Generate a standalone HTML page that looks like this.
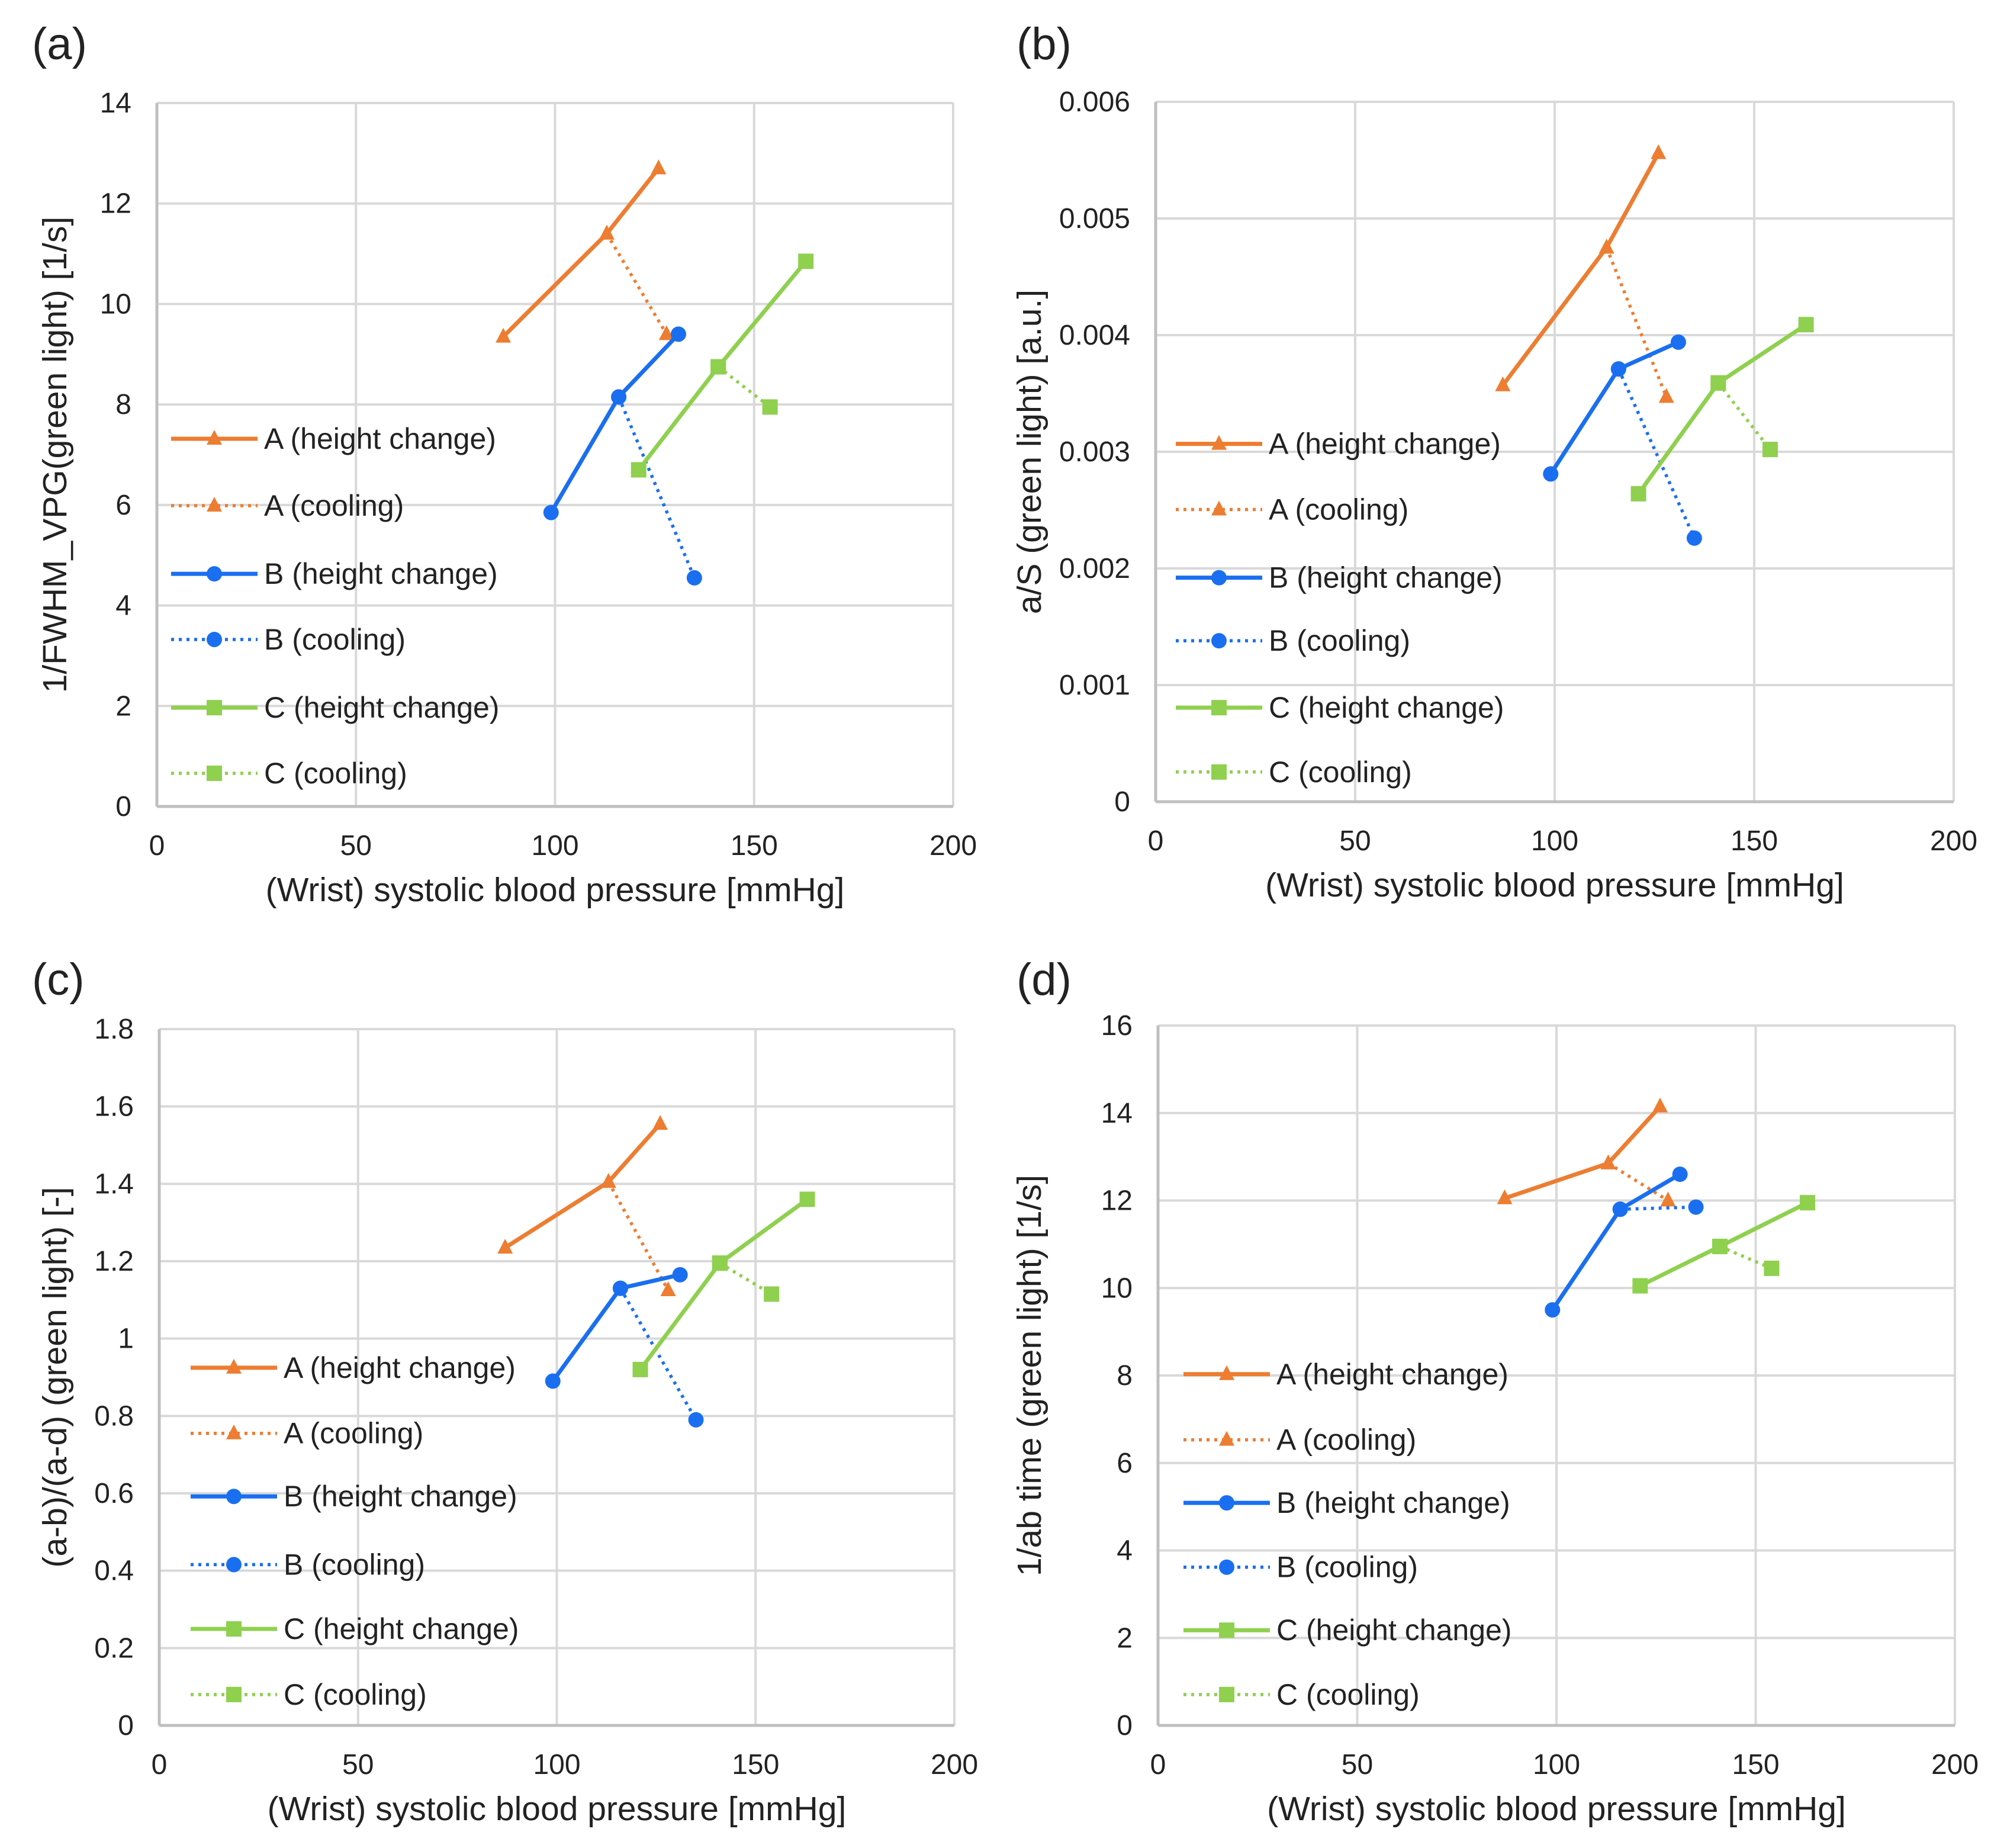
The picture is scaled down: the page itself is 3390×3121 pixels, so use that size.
<!DOCTYPE html>
<html><head><meta charset="utf-8"><style>
html,body{margin:0;padding:0;background:#fff}
svg{display:block}
text{font-family:"Liberation Sans",sans-serif;fill:#222}
</style></head><body>
<svg id="fig" width="3390" height="3121" viewBox="0 0 3390 3121" xmlns="http://www.w3.org/2000/svg"></svg>
<script>
// ---- data ----
const seriesNames = ["A (height change)","A (cooling)","B (height change)","B (cooling)","C (height change)","C (cooling)"];
const xTicks = [0,50,100,150,200];
// panel a
const aAh=[[87,9.35],[113,11.4],[126,12.7]];
const aAc=[[113,11.4],[128,9.4]];
const aBh=[[99,5.85],[116,8.15],[131,9.4]];
const aBc=[[116,8.15],[135,4.55]];
const aCh=[[121,6.7],[141,8.75],[163,10.85]];
const aCc=[[141,8.75],[154,7.95]];
const aYTicks=["0","2","4","6","8","10","12","14"];
// panel b
const bAh=[[87,0.00357],[113,0.00475],[126,0.00556]];
const bAc=[[113,0.00475],[128,0.00347]];
const bBh=[[99,0.00281],[116,0.00371],[131,0.00394]];
const bBc=[[116,0.00371],[135,0.00226]];
const bCh=[[121,0.00264],[141,0.00359],[163,0.00409]];
const bCc=[[141,0.00359],[154,0.00302]];
const bYTicks=["0","0.001","0.002","0.003","0.004","0.005","0.006"];
// panel c
const cAh=[[87,1.235],[113,1.405],[126,1.555]];
const cAc=[[113,1.405],[128,1.125]];
const cBh=[[99,0.89],[116,1.13],[131,1.165]];
const cBc=[[116,1.13],[135,0.79]];
const cCh=[[121,0.92],[141,1.195],[163,1.36]];
const cCc=[[141,1.195],[154,1.115]];
const cYTicks=["0","0.2","0.4","0.6","0.8","1","1.2","1.4","1.6","1.8"];
// panel d
const dAh=[[87,12.05],[113,12.85],[126,14.15]];
const dAc=[[113,12.85],[128,12.0]];
const dBh=[[99,9.5],[116,11.8],[131,12.6]];
const dBc=[[116,11.8],[135,11.85]];
const dCh=[[121,10.05],[141,10.95],[163,11.95]];
const dCc=[[141,10.95],[154,10.45]];
const dYTicks=["0","2","4","6","8","10","12","14","16"];

const NS="http://www.w3.org/2000/svg";
const svg=document.getElementById('fig');
function mk(tag,attrs,parent){const e=document.createElementNS(NS,tag);for(const k in attrs)e.setAttribute(k,attrs[k]);(parent||svg).appendChild(e);return e;}
const colors=["#ED7D31","#ED7D31","#1A6FF0","#1A6FF0","#8FD04F","#8FD04F"];
const markers=["tri","tri","circ","circ","sq","sq"];
const dashed=[false,true,false,true,false,true];

function marker(g,type,x,y,c){
  let m;
  if(type==="tri") m=mk('polygon',{points:`${x},${y-15} ${x-13},${y+10} ${x+13},${y+10}`,fill:c},g);
  else if(type==="circ") m=mk('circle',{cx:x,cy:y,r:13,fill:c},g);
  else m=mk('rect',{x:x-13,y:y-13,width:26,height:26,fill:c},g);
  
  
}

function panel(p){
  const g=mk('g',{});
  
  
  const X=v=>p.x0+(v-0)/(200)*(p.x1-p.x0);
  const yMax=p.ymax;
  const Y=v=>p.y0-(v/yMax)*(p.y0-p.y1);
  xTicks.forEach(t=>{
    const l=mk('line',{x1:X(t),x2:X(t),y1:p.y1,y2:p.y0,stroke:'#d9d9d9','stroke-width':4},g);
    
    const tx=mk('text',{x:X(t),y:p.y0+82,'font-size':48,'text-anchor':'middle'},g);tx.textContent=t;
    
  });
  const n=p.ticks.length-1;
  p.ticks.forEach((t,i)=>{
    const v=yMax*i/n;
    const l=mk('line',{x1:p.x0,x2:p.x1,y1:Y(v),y2:Y(v),stroke:'#d9d9d9','stroke-width':4},g);
    
    const tx=mk('text',{x:p.x0-43,y:Y(v)+16,'font-size':48,'text-anchor':'end'},g);tx.textContent=t;
    
  });
  const ax=mk('line',{x1:p.x0,x2:p.x1,y1:p.y0,y2:p.y0,stroke:'#bfbfbf','stroke-width':5},g);
  
  const ay=mk('line',{x1:p.x0,x2:p.x0,y1:p.y1,y2:p.y0,stroke:'#bfbfbf','stroke-width':5},g);
  
  const xt=mk('text',{x:(p.x0+p.x1)/2,y:p.y0+160,'font-size':57,'text-anchor':'middle'},g);
  xt.textContent="(Wrist) systolic blood pressure [mmHg]";
  
  const yc=(p.y0+p.y1)/2;
  const yt=mk('text',{x:p.ytx,y:yc,'font-size':57,'text-anchor':'middle',transform:`rotate(-90 ${p.ytx} ${yc})`},g);
  yt.textContent=p.ytitle;
  
  const pl=mk('text',{x:p.lx,y:p.ly,'font-size':76},g);pl.textContent=p.label;
  
  p.series.forEach((s,i)=>{
    const pts=s.map(d=>X(d[0])+','+Y(d[1])).join(' ');
    const pl=mk('polyline',{points:pts,fill:'none',stroke:colors[i],'stroke-width':dashed[i]?5.5:7,'stroke-dasharray':dashed[i]?'5 8':'none'},g);
    
    s.forEach(d=>marker(g,markers[i],X(d[0]),Y(d[1]),colors[i]));
  });
  p.leg.rows.forEach((ry,i)=>{
    const lg=mk('g',{},g);
    
    
    mk('line',{x1:p.leg.x,x2:p.leg.x+146,y1:ry,y2:ry,stroke:colors[i],'stroke-width':dashed[i]?5.5:7,'stroke-dasharray':dashed[i]?'5 8':'none'},lg);
    marker(lg,markers[i],p.leg.x+73,ry,colors[i]);
    const t=mk('text',{x:p.leg.x+157,y:ry+17,'font-size':50},lg);t.textContent=seriesNames[i];
  });
}
const S=2.173;
panel({id:'a',label:'(a)',lx:54,ly:100,x0:265,x1:1610,y0:1362,y1:174,ymax:14,ticks:aYTicks,ytx:112,
  ytitle:"1/FWHM_VPG(green light) [1/s]",series:[aAh,aAc,aBh,aBc,aCh,aCc],
  leg:{x:289,rows:[341,393,446,497,550,601].map(v=>v*S)}});
panel({id:'b',label:'(b)',lx:1717,ly:100,x0:1952,x1:3300,y0:1354,y1:172,ymax:0.006,ticks:bYTicks,ytx:1758,
  ytitle:"a/S (green light) [a.u.]",series:[bAh,bAc,bBh,bBc,bCh,bCc],
  leg:{x:1986,rows:[345,396,449,498,550,600].map(v=>v*S)}});
panel({id:'c',label:'(c)',lx:54,ly:1680,x0:269,x1:1612,y0:2914,y1:1738,ymax:1.8,ticks:cYTicks,ytx:112,
  ytitle:"(a-b)/(a-d) (green light) [-]",series:[cAh,cAc,cBh,cBc,cCh,cCc],
  leg:{x:322,rows:[1063,1114,1163,1216,1266,1317].map(v=>v*S)}});
panel({id:'d',label:'(d)',lx:1717,ly:1680,x0:1956,x1:3302,y0:2914,y1:1732,ymax:16,ticks:dYTicks,ytx:1758,
  ytitle:"1/ab time (green light) [1/s]",series:[dAh,dAc,dBh,dBc,dCh,dCc],
  leg:{x:1999,rows:[1068,1119,1168,1218,1267,1317].map(v=>v*S)}});
</script>
</body></html>
